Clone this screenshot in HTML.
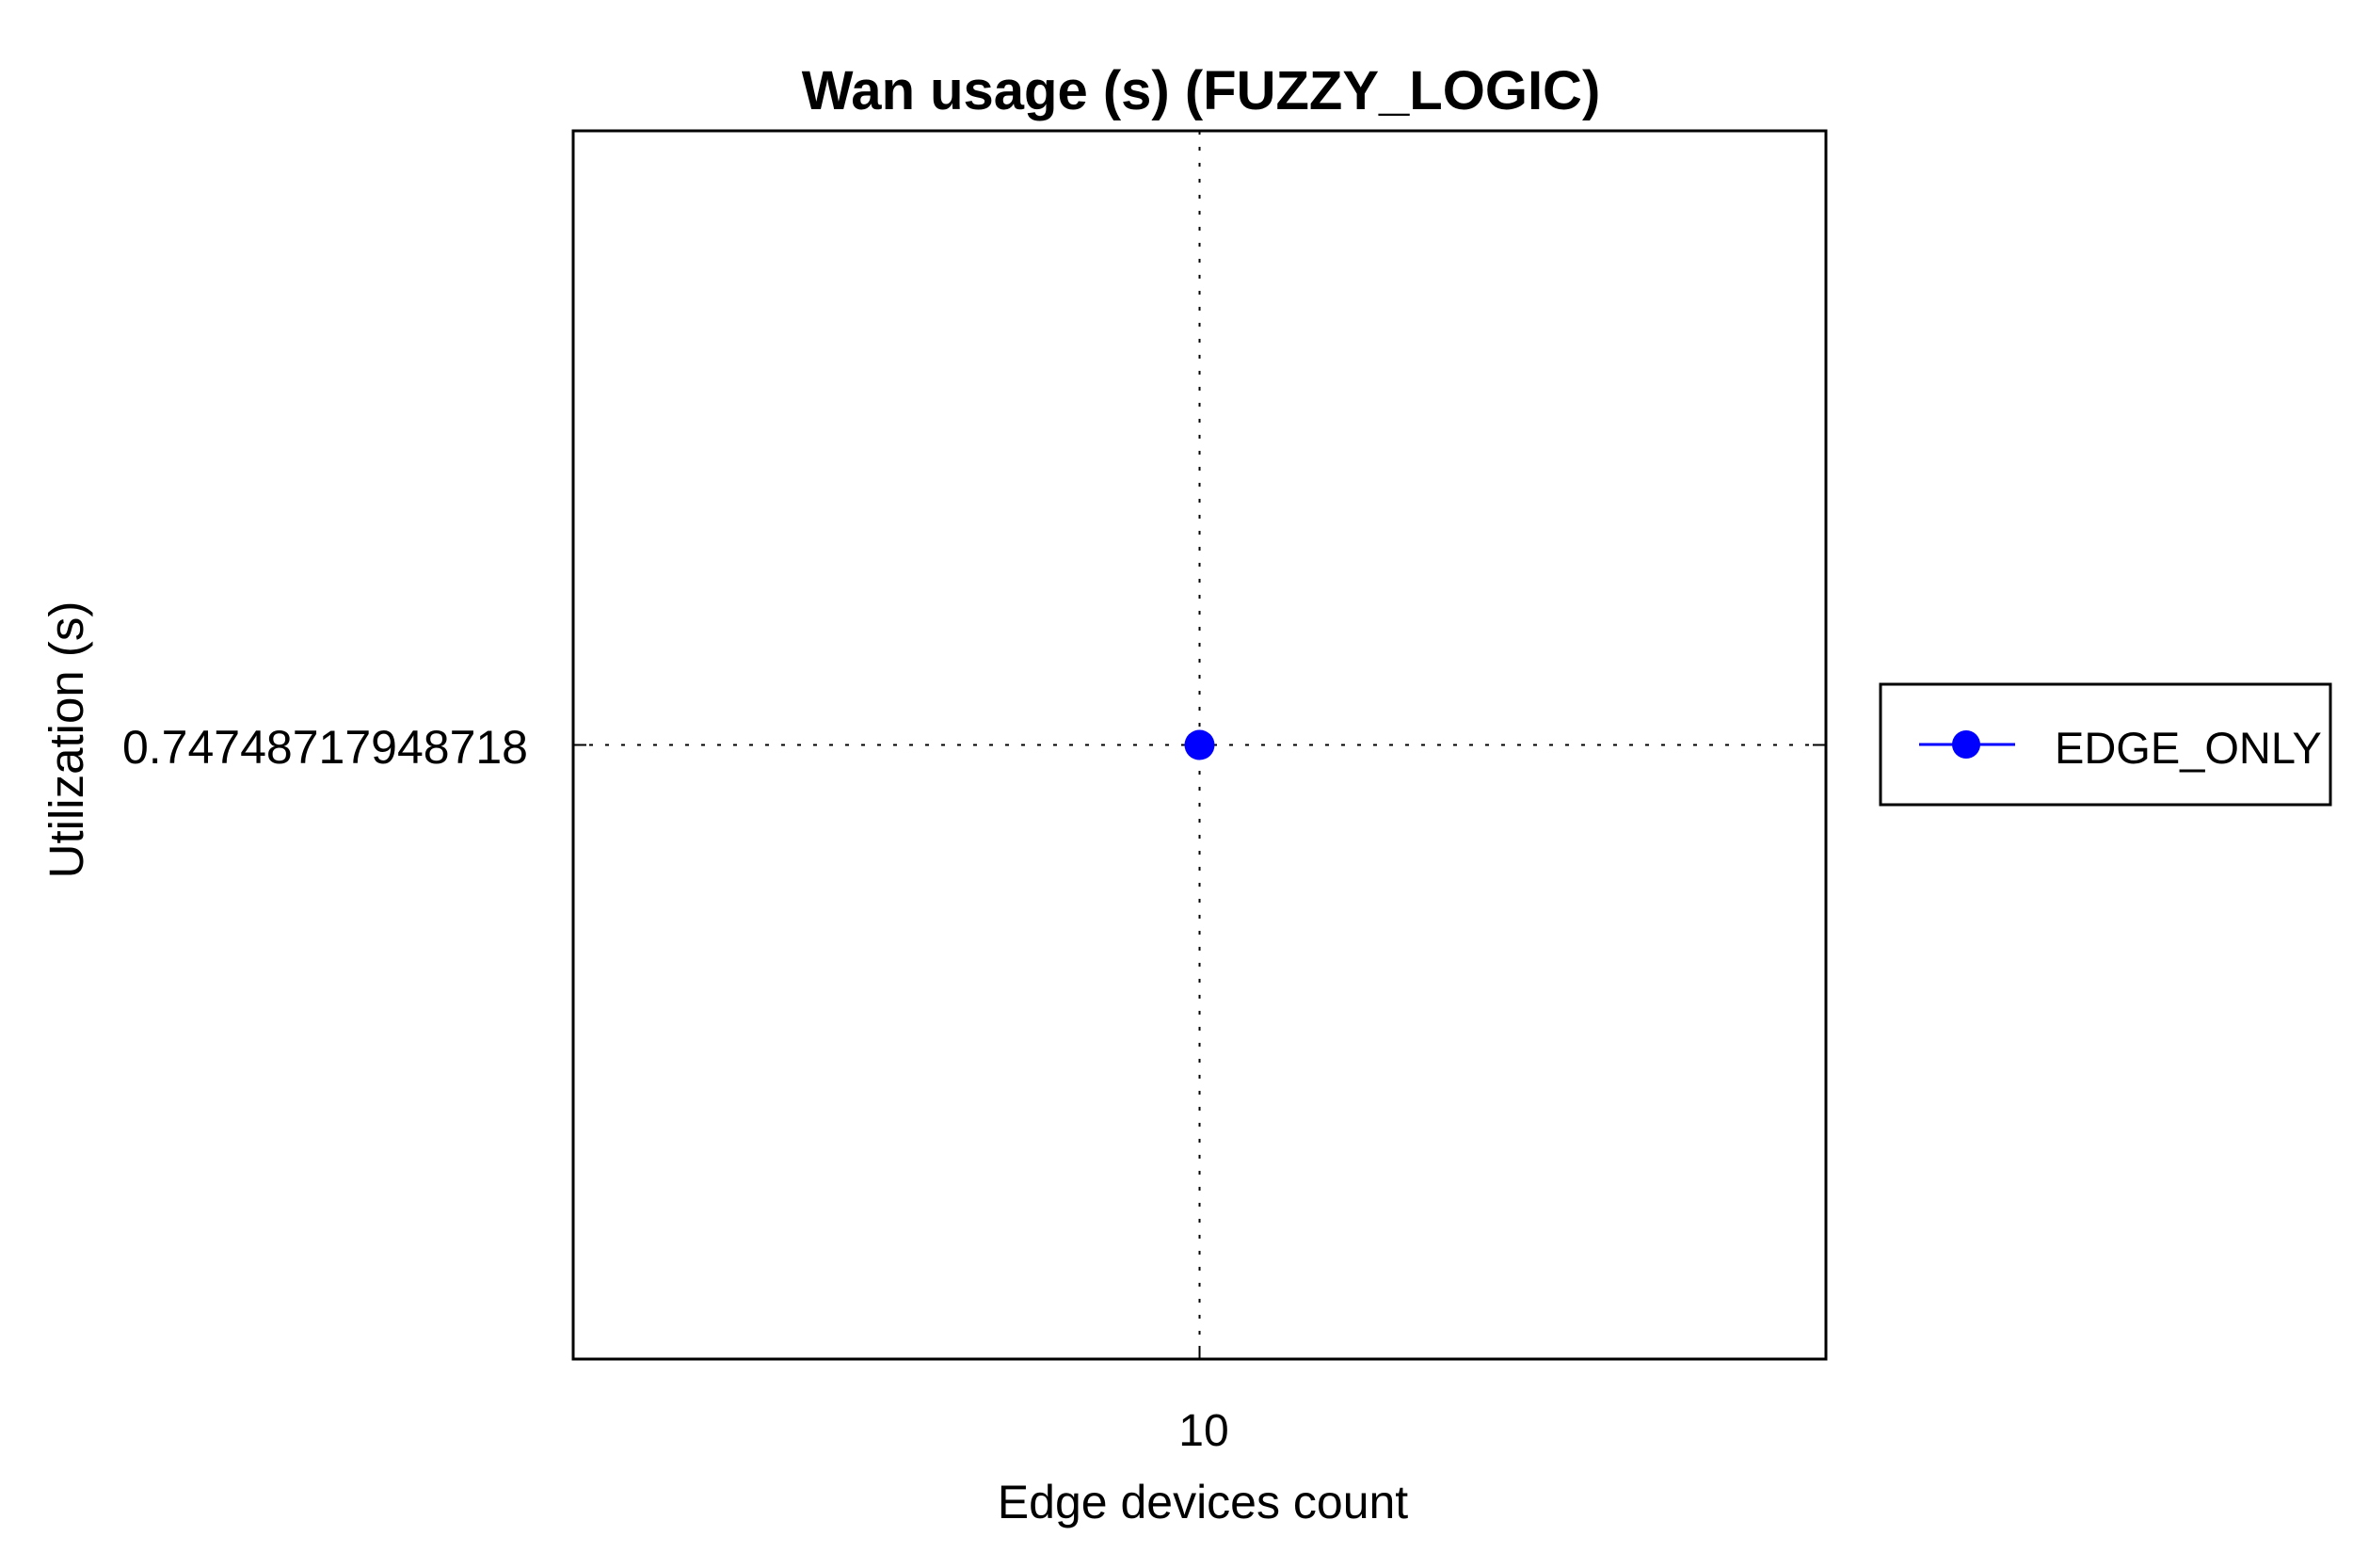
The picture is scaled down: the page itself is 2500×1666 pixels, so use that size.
<!DOCTYPE html>
<html><head><meta charset="utf-8"><style>
html,body{margin:0;padding:0;background:#fff;}
svg{display:block;font-family:"Liberation Sans",sans-serif;}
</style></head><body>
<svg id="chart" width="2500" height="1666" viewBox="0 0 2500 1666">
<text x="1276" y="116" text-anchor="middle" font-size="58" font-weight="bold">Wan usage (s) (FUZZY_LOGIC)</text>
<g id="grid"></g>
<rect x="609" y="139" width="1331" height="1305" fill="none" stroke="#000" stroke-width="3"/>
<g id="marks"></g>
<text x="1279" y="1536" text-anchor="middle" font-size="48" id="xtick"></text>
<text x="1278" y="1613" text-anchor="middle" font-size="50">Edge devices count</text>
<text x="561" y="811" text-anchor="end" font-size="50" id="ytick"></text>
<text transform="translate(88,786) rotate(-90)" text-anchor="middle" font-size="51">Utilization (s)</text>
<g>
<rect x="1998" y="727" width="478" height="128" fill="#fff" stroke="#000" stroke-width="3"/>
<line x1="2039" y1="791" x2="2141" y2="791" stroke="#0000ff" stroke-width="3"/>
<circle cx="2089" cy="791" r="15" fill="#0000ff"/>
<text x="2183" y="811" font-size="47">EDGE_ONLY</text>
</g>
</svg>
<script>
const categories = [10];
const seriesValues = [0.74748717948718];
const yTickLabels = ["0.74748717948718"];
const NS = "http://www.w3.org/2000/svg";
const L = 609, R = 1940, T = 139, B = 1444;
const xMin = categories[0] - 1, xMax = categories[categories.length-1] + 1;
const yv = seriesValues[0];
const yMin = yv - 1, yMax = yv + 1;
function xs(v){ return L + (v - xMin) / (xMax - xMin) * (R - L); }
function ys(v){ return B - (v - yMin) / (yMax - yMin) * (B - T); }
const grid = document.getElementById('grid');
const marks = document.getElementById('marks');
function mk(tag, attrs, parent){ const e = document.createElementNS(NS, tag); for (const k in attrs) e.setAttribute(k, attrs[k]); parent.appendChild(e); return e; }
categories.forEach(c => {
  const gx = mk('line', {x1: xs(c), x2: xs(c), y1: T, y2: B, stroke: '#000', 'stroke-width': 2, 'stroke-dasharray': '4 13'}, grid);
  
  
  const tk = mk('line', {x1: xs(c), x2: xs(c), y1: B - 14, y2: B, stroke: '#000', 'stroke-width': 2}, grid);
  
  
});
document.getElementById('xtick').textContent = String(categories[0]);
document.getElementById('ytick').textContent = yTickLabels[0];
seriesValues.forEach(v => {
  const gy = mk('line', {x1: L, x2: R, y1: ys(v), y2: ys(v), stroke: '#000', 'stroke-width': 2, 'stroke-dasharray': '4 13'}, grid);
  
  
  const tl = mk('line', {x1: L, x2: L + 14, y1: ys(v), y2: ys(v), stroke: '#000', 'stroke-width': 2}, grid);
  
  
  const tr = mk('line', {x1: R - 14, x2: R, y1: ys(v), y2: ys(v), stroke: '#000', 'stroke-width': 2}, grid);
  
  
});
categories.forEach((c, i) => {
  const p = mk('circle', {cx: xs(c), cy: ys(seriesValues[i]), r: 16, fill: '#0000ff'}, marks);
  
  
});
</script>
</body></html>
